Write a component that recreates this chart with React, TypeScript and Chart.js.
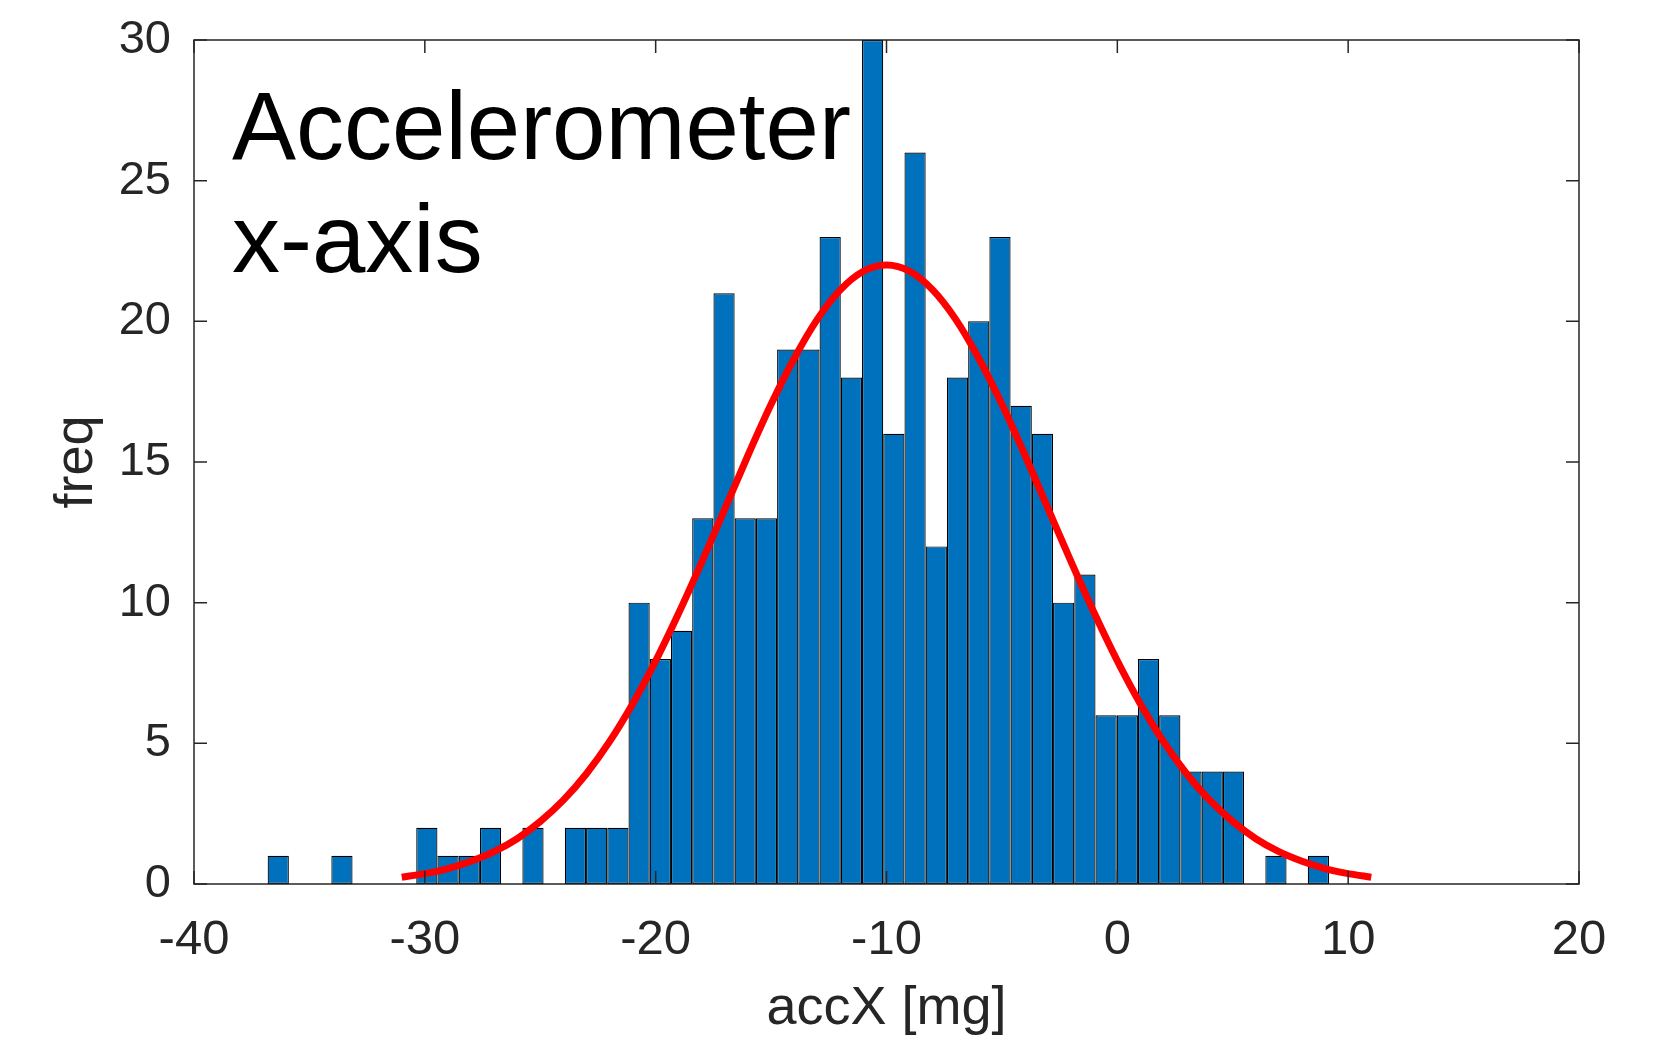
import React, { useEffect, useRef } from "react";
import { Chart, registerables } from "chart.js";

Chart.register(...registerables);

// Histogram bin centres (mg) and counts
const binCenters = [
  -36.35, -35.43, -34.511, -33.591, -32.672, -31.752, -30.832, -29.913, -28.993, -28.074,
  -27.154, -26.234, -25.315, -24.395, -23.476, -22.556, -21.636, -20.717, -19.797, -18.878,
  -17.958, -17.038, -16.119, -15.199, -14.28, -13.36, -12.44, -11.521, -10.601, -9.682,
  -8.762, -7.842, -6.923, -6.003, -5.084, -4.164, -3.244, -2.325, -1.405, -0.486,
  0.434, 1.354, 2.273, 3.193, 4.112, 5.032, 5.952, 6.871, 7.791, 8.71,
];
const binCounts = [
  1, 0, 0, 1, 0, 0, 0, 2, 1, 1,
  2, 0, 2, 0, 2, 2, 2, 10, 8, 9,
  13, 21, 13, 13, 19, 19, 23, 18, 30, 16,
  26, 12, 18, 20, 23, 17, 16, 10, 11, 6,
  6, 8, 6, 4, 4, 4, 0, 1, 0, 1,
];

// Normal fit curve
const fitX = [
  -31, -30, -29, -28, -27, -26, -25, -24, -23, -22, -21, -20, -19, -18, -17, -16, -15, -14, -13, -12, -11,
  -10, -9, -8, -7, -6, -5, -4, -3, -2, -1, 0, 1, 2, 3, 4, 5, 6, 7, 8, 9, 10, 11,
];
const fitY = [
  0.24, 0.37, 0.55, 0.81, 1.15, 1.61, 2.22, 2.98, 3.92, 5.06, 6.4, 7.93, 9.63, 11.45, 13.34, 15.24, 17.05, 18.68, 20.07, 21.12, 21.78,
  22.0, 21.78, 21.12, 20.07, 18.68, 17.05, 15.24, 13.34, 11.45, 9.63, 7.93, 6.4, 5.06, 3.92, 2.98, 2.22, 1.61, 1.15, 0.81, 0.55, 0.37, 0.24,
];

const xTicksRange = { min: -40, max: 20, step: 10 };
const yTicksRange = { min: 0, max: 30, step: 5 };
const xTitle = "accX [mg]";
const yTitle = "freq";
const annotationLines = ["Accelerometer", "x-axis"];

const FONT = "'Liberation Sans', Arial, Helvetica, sans-serif";
const AXIS_COLOR = "#262626";

const framePlugin = {
  id: "frameAndText",
  afterDatasetsDraw(chart: any) {
    const { ctx, chartArea: a, scales } = chart;
    ctx.save();
    ctx.strokeStyle = AXIS_COLOR;
    ctx.lineWidth = 1.5;
    ctx.strokeRect(a.left, a.top, a.right - a.left, a.bottom - a.top);
    const L = 13;
    ctx.beginPath();
    scales.x.ticks.forEach((t: any) => {
      const px = scales.x.getPixelForValue(t.value);
      ctx.moveTo(px, a.bottom);
      ctx.lineTo(px, a.bottom - L);
      ctx.moveTo(px, a.top);
      ctx.lineTo(px, a.top + L);
    });
    scales.y.ticks.forEach((t: any) => {
      const py = scales.y.getPixelForValue(t.value);
      ctx.moveTo(a.left, py);
      ctx.lineTo(a.left + L, py);
      ctx.moveTo(a.right, py);
      ctx.lineTo(a.right - L, py);
    });
    ctx.stroke();

    // annotation text
    ctx.fillStyle = "#000000";
    ctx.font = `96px ${FONT}`;
    ctx.textAlign = "left";
    ctx.textBaseline = "alphabetic";
    annotationLines.forEach((s, i) => ctx.fillText(s, a.left + 38, a.top + 119 + i * 113));
    ctx.restore();
  },
};

export default function App() {
  const canvasRef = useRef<HTMLCanvasElement | null>(null);

  useEffect(() => {
    const canvas = canvasRef.current;
    if (!canvas) return;
    const chart = new Chart(canvas, {
      type: "bar",
      data: {
        datasets: [
          {
            type: "line",
            data: fitX.map((x, i) => ({ x, y: fitY[i] })),
            borderColor: "#ff0000",
            borderWidth: 7,
            pointRadius: 0,
            cubicInterpolationMode: "monotone",
            fill: false,
            order: 0,
          } as any,
          {
            type: "bar",
            data: binCenters.map((x, i) => ({ x, y: binCounts[i] })),
            backgroundColor: "#0072BD",
            borderColor: "#000000",
            borderWidth: 1.2,
            borderSkipped: false,
            barPercentage: 1,
            categoryPercentage: 1,
            inflateAmount: 0,
            order: 1,
          } as any,
        ],
      },
      options: {
        responsive: false,
        animation: false,
        devicePixelRatio: 1,
        layout: { padding: { left: 0, top: 40, right: 75, bottom: 0 } },
        plugins: { legend: { display: false }, tooltip: { enabled: false } },
        scales: {
          x: {
            type: "linear",
            offset: false,
            min: xTicksRange.min,
            max: xTicksRange.max,
            grid: { display: false },
            border: { display: false },
            ticks: {
              stepSize: xTicksRange.step,
              color: AXIS_COLOR,
              font: { family: FONT, size: 49, lineHeight: 1.2 },
              padding: 19,
              maxRotation: 0,
            },
            title: {
              display: true,
              text: xTitle,
              color: AXIS_COLOR,
              font: { family: FONT, size: 54, lineHeight: 1.2 },
              padding: { top: 0, bottom: 0 },
            },
            afterFit: (s: any) => {
              s.height = 158;
              s.paddingLeft = 0;
              s.paddingRight = 0;
            },
          },
          y: {
            min: yTicksRange.min,
            max: yTicksRange.max,
            grid: { display: false },
            border: { display: false },
            ticks: {
              stepSize: yTicksRange.step,
              color: AXIS_COLOR,
              font: { family: FONT, size: 47, lineHeight: 1.2 },
              padding: 15,
            },
            title: {
              display: true,
              text: yTitle,
              color: AXIS_COLOR,
              font: { family: FONT, size: 54, lineHeight: 1.2 },
              padding: { top: 45, bottom: 0 },
            },
            afterFit: (s: any) => {
              s.width = 194;
              s.paddingTop = 0;
              s.paddingBottom = 0;
            },
          },
        },
      } as any,
      plugins: [framePlugin],
    });
    return () => chart.destroy();
  }, []);

  return (
    <div style={{ position: "absolute", left: 0, top: 0, width: 1654, height: 1042, background: "#ffffff" }}>
      <canvas ref={canvasRef} width={1654} height={1042} style={{ display: "block" }} />
    </div>
  );
}
